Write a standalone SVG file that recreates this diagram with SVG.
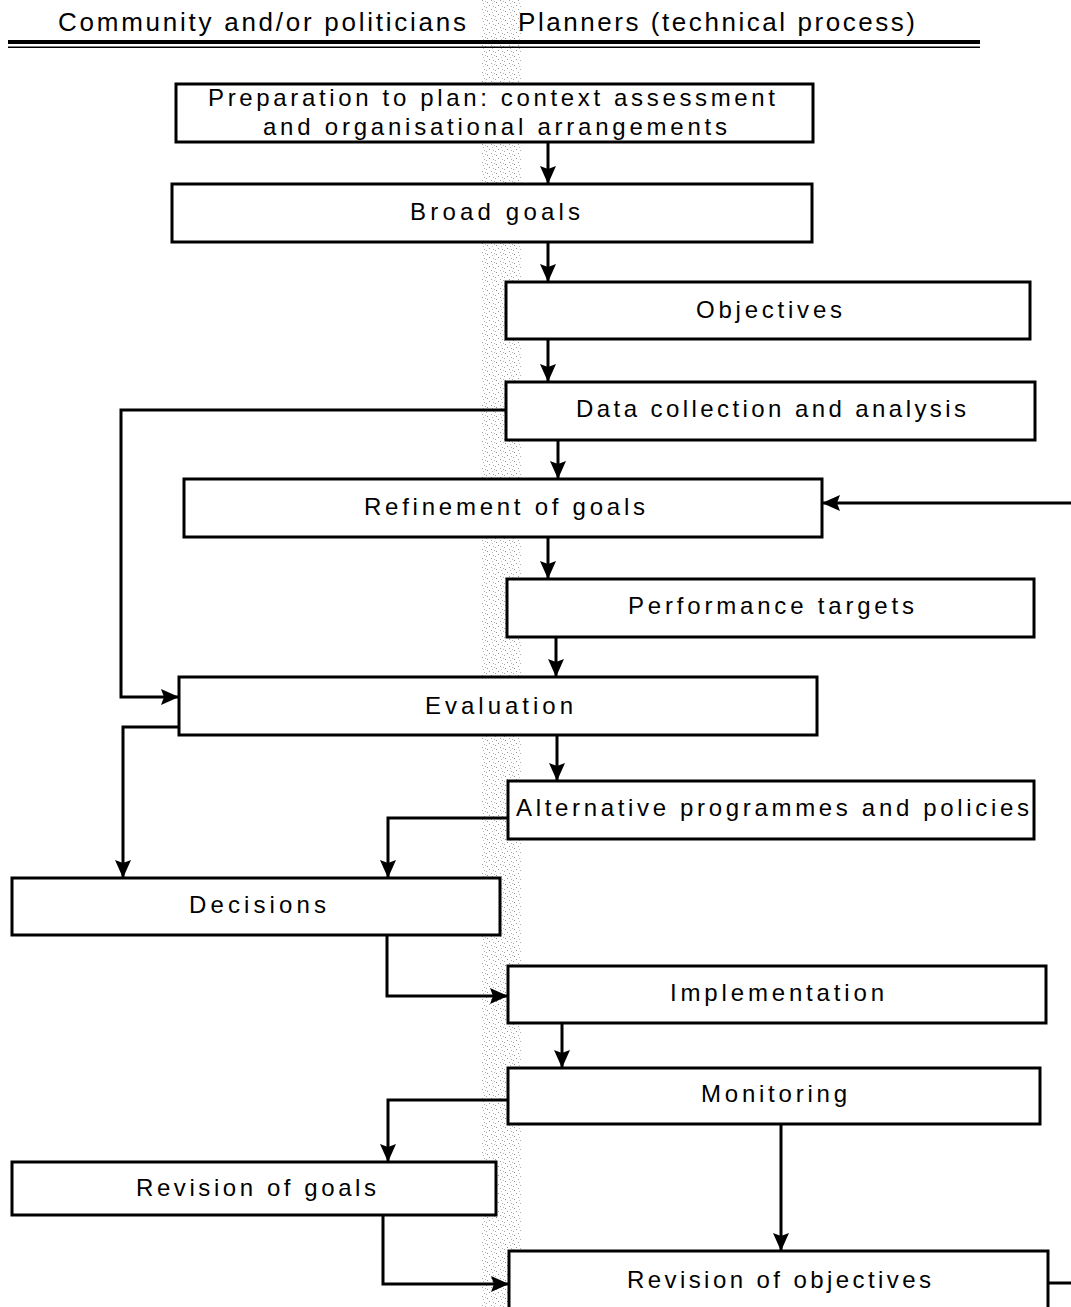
<svg xmlns="http://www.w3.org/2000/svg" width="1071" height="1307" viewBox="0 0 1071 1307">
  <style>
    .box { fill: #ffffff; stroke: #000000; stroke-width: 3; }
    .lbl { font-family: "Liberation Sans", Arial, sans-serif; font-size: 24px; fill: #000000; text-anchor: start; }
    .hdr { font-family: "Liberation Sans", Arial, sans-serif; font-size: 26px; fill: #000000; }
    .wire { fill: none; stroke: #000000; stroke-width: 3; stroke-linejoin: miter; }
  </style>
  <defs>
    <marker id="arrow" viewBox="0 0 18 16" refX="18" refY="8" markerWidth="18" markerHeight="16" markerUnits="userSpaceOnUse" orient="auto">
      <path d="M0,0 L18,8 L0,16 L3,8 Z" fill="#000000"/>
    </marker>
    <!-- stippled texture for the divider band between the two columns -->
    <pattern id="stipple" width="9" height="9" patternUnits="userSpaceOnUse">
      <rect x="1" y="2" width="1" height="1" fill="#7a7a7a"/>
      <rect x="5" y="0" width="1" height="1" fill="#909090"/>
      <rect x="3" y="5" width="1" height="1" fill="#808080"/>
      <rect x="7" y="6" width="1" height="1" fill="#a0a0a0"/>
      <rect x="0" y="7" width="1" height="1" fill="#989898"/>
      <rect x="6" y="3" width="1" height="1" fill="#b0b0b0"/>
      <rect x="8" y="1" width="1" height="1" fill="#a8a8a8"/>
    </pattern>
  </defs>

  <rect width="1071" height="1307" fill="#ffffff"/>

  <!-- column divider -->
  <rect id="divider" x="481" y="0" width="40" height="1307" fill="url(#stipple)" opacity="0.85"/>

  <!-- column headings -->
  <g id="header">
    <text class="hdr" x="58" y="31" textLength="408" lengthAdjust="spacing">Community and/or politicians</text>
    <text class="hdr" x="518" y="31" textLength="397" lengthAdjust="spacing">Planners (technical process)</text>
    <rect x="8" y="40" width="972" height="4" fill="#000000"/>
    <rect x="8" y="46.5" width="972" height="1.5" fill="#000000"/>
  </g>

  <!-- connectors -->
  <g id="connectors">
    <path class="wire" d="M548,142 V184" marker-end="url(#arrow)"/>
    <path class="wire" d="M548,242 V282" marker-end="url(#arrow)"/>
    <path class="wire" d="M548,339 V382" marker-end="url(#arrow)"/>
    <path class="wire" d="M558,440 V479" marker-end="url(#arrow)"/>
    <path class="wire" d="M548,537 V579" marker-end="url(#arrow)"/>
    <path class="wire" d="M556,637 V677" marker-end="url(#arrow)"/>
    <path class="wire" d="M557,735 V781" marker-end="url(#arrow)"/>
    <!-- data collection feeds evaluation -->
    <path class="wire" d="M506,410 H121 V697 H179" marker-end="url(#arrow)"/>
    <!-- feedback from the right into refinement of goals -->
    <path class="wire" d="M1071,503 H822" marker-end="url(#arrow)"/>
    <!-- evaluation to decisions -->
    <path class="wire" d="M179,727 H123 V878" marker-end="url(#arrow)"/>
    <!-- alternatives to decisions -->
    <path class="wire" d="M508,818 H388 V878" marker-end="url(#arrow)"/>
    <!-- decisions to implementation -->
    <path class="wire" d="M387,935 V996 H508" marker-end="url(#arrow)"/>
    <path class="wire" d="M562,1023 V1068" marker-end="url(#arrow)"/>
    <!-- monitoring to revision of goals -->
    <path class="wire" d="M508,1100 H388 V1162" marker-end="url(#arrow)"/>
    <!-- monitoring to revision of objectives -->
    <path class="wire" d="M781,1124 V1251" marker-end="url(#arrow)"/>
    <!-- revision of goals to revision of objectives -->
    <path class="wire" d="M383,1215 V1284 H509" marker-end="url(#arrow)"/>
    <!-- onward loop leaving revision of objectives -->
    <path class="wire" d="M1048,1283 H1071"/>
  </g>

  <!-- nodes -->
  <g id="n-preparation">
    <rect class="box" x="176" y="84" width="637" height="58"/>
    <text class="lbl" x="208" y="106" textLength="567" lengthAdjust="spacing">Preparation to plan: context assessment</text>
    <text class="lbl" x="263" y="135" textLength="464" lengthAdjust="spacing">and organisational arrangements</text>
  </g>
  <g id="n-broad-goals">
    <rect class="box" x="172" y="184" width="640" height="58"/>
    <text class="lbl" x="410" y="220" textLength="170" lengthAdjust="spacing">Broad goals</text>
  </g>
  <g id="n-objectives">
    <rect class="box" x="506" y="282" width="524" height="57"/>
    <text class="lbl" x="696" y="318" textLength="146" lengthAdjust="spacing">Objectives</text>
  </g>
  <g id="n-data">
    <rect class="box" x="506" y="382" width="529" height="58"/>
    <text class="lbl" x="576" y="417" textLength="390" lengthAdjust="spacing">Data collection and analysis</text>
  </g>
  <g id="n-refinement">
    <rect class="box" x="184" y="479" width="638" height="58"/>
    <text class="lbl" x="364" y="515" textLength="281" lengthAdjust="spacing">Refinement of goals</text>
  </g>
  <g id="n-performance">
    <rect class="box" x="507" y="579" width="527" height="58"/>
    <text class="lbl" x="628" y="614" textLength="286" lengthAdjust="spacing">Performance targets</text>
  </g>
  <g id="n-evaluation">
    <rect class="box" x="179" y="677" width="638" height="58"/>
    <text class="lbl" x="425" y="714" textLength="148" lengthAdjust="spacing">Evaluation</text>
  </g>
  <g id="n-alternatives">
    <rect class="box" x="508" y="781" width="526" height="58"/>
    <text class="lbl" x="516" y="816" textLength="513" lengthAdjust="spacing">Alternative programmes and policies</text>
  </g>
  <g id="n-decisions">
    <rect class="box" x="12" y="878" width="488" height="57"/>
    <text class="lbl" x="189" y="913" textLength="137" lengthAdjust="spacing">Decisions</text>
  </g>
  <g id="n-implementation">
    <rect class="box" x="508" y="966" width="538" height="57"/>
    <text class="lbl" x="670" y="1001" textLength="214" lengthAdjust="spacing">Implementation</text>
  </g>
  <g id="n-monitoring">
    <rect class="box" x="508" y="1068" width="532" height="56"/>
    <text class="lbl" x="701" y="1102" textLength="146" lengthAdjust="spacing">Monitoring</text>
  </g>
  <g id="n-revision-goals">
    <rect class="box" x="12" y="1162" width="484" height="53"/>
    <text class="lbl" x="136" y="1196" textLength="240" lengthAdjust="spacing">Revision of goals</text>
  </g>
  <g id="n-revision-objectives">
    <rect class="box" x="509" y="1251" width="539" height="70"/>
    <text class="lbl" x="627" y="1288" textLength="304" lengthAdjust="spacing">Revision of objectives</text>
  </g>
</svg>
